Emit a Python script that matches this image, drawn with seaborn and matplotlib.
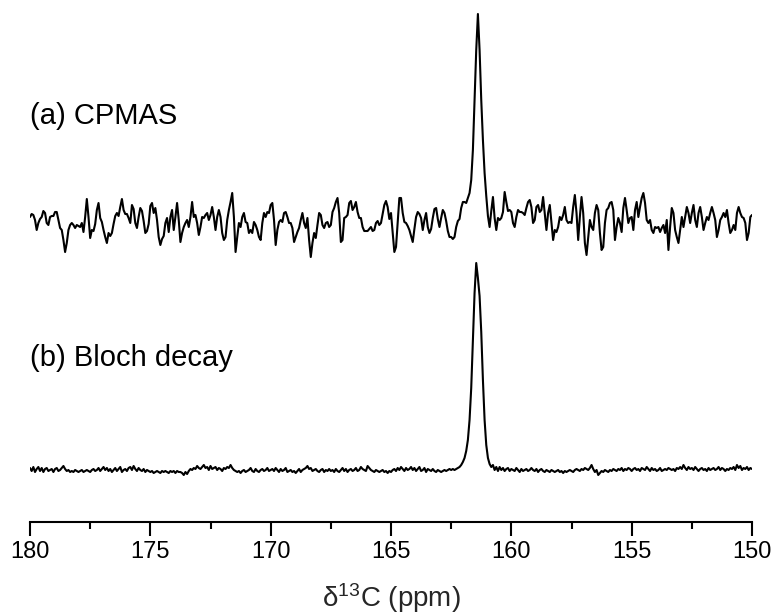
import matplotlib
matplotlib.use('Agg')
import matplotlib.pyplot as plt
from matplotlib.ticker import MultipleLocator
import numpy as np
import pandas as pd
import seaborn as sns

# chemical shift range (ppm), spectra sampled evenly from 180 down to 150
ppm_start, ppm_end = 180, 150

# (a) CPMAS intensity, arbitrary units
cpmas = [
    # 180.0 - 175.0
    -1, 2, 1, -4, -14, -7, -3, -1, 5, 3, -7, -9, -1, 0, 0, 4, 4, -4, -12, -14, -24, -36, -27, -14,
    -9, -7, -9, -12, -9, -10, -11, -7, -16, -1, 17, -1, -22, -14, -15, -8, 6, 13, -2, -6, -14, -21, -27, -17,
    -20, -17, -8, 0, 3, 0, 9, 17, 6, 2, 2, -2, -7, 11, 7, -7, -12, -1, 8, 5, -5, -17, -15, -8,
    # 175.0 - 170.0
    10, 13, 3, 8, -4, -21, -29, -23, -20, -7, -2, -16, -1, 6, -14, -1, 13, -4, -26, -17, -11, -7, -4, -11,
    -1, 14, -1, 1, -7, -19, -11, -1, -2, 1, 3, -4, 1, 9, -1, -14, -1, 6, -1, -17, -24, -21, -4, 6,
    14, 23, -1, -36, -21, -7, -11, -1, 3, -6, -7, -17, -14, -17, -6, -9, -14, -21, -24, -7, 3, -1, 4, 3,
    # 170.0 - 165.0
    11, 13, -4, -29, -14, -6, -4, -6, 3, 4, -1, -7, -7, -12, -26, -21, -16, -12, -4, 3, -7, -12, -2, -24,
    -41, -27, -17, -22, -9, 3, 1, -9, -12, -7, -6, -11, -9, 4, 8, 14, 18, 3, -26, -24, -2, -1, 1, 13,
    15, 6, 9, 14, 4, -2, -2, -11, -15, -15, -15, -13, -11, -15, -14, -7, -5, -9, -7, 2, 11, 15, 9, -3,
    # 165.0 - 160.0
    3, -17, -36, -31, -7, 18, 18, 3, -6, -7, -10, -14, -20, -26, -13, -1, 4, 2,
    -2, -14, -4, 3, -11, -17, -13, -2, 7, 8, -3, -11, -2, 6, 3, -5, -15, -21, -21, -23, -21, -11, -5, -3,
    8, 14, 14, 13, 18, 23,
    36, 66, 116, 166, 202, 166, 116, 76, 43, 20, 0, -11, 5, 19, -2, -14, -2, -4, -2, 4, 24, 14, 5, 6,
    # 160.0 - 155.0
    4, -7, -11, -1, 6, 4, 4, 3, 1, 8, 14, 16, 9, -7, -4, 9, 11, 4, 6, 19, 3, -14, 3, 11,
    -7, -24, -14, -16, -11, -1, -4, 1, 9, -4, -7, -6, -7, 9, 21, 3, -24, -1, 19, 3, -27, -39, -21, -4,
    -11, -14, 3, 11, 6, -17, -34, -31, -7, 6, 8, 13, 14, 6, -24, -11, -2, -7, -16, 8, 18, 6, -7, -2,
    # 155.0 - 150.0
    -1, -14, 6, 14, -1, 9, 18, 23, 13, -4, -7, -4, -14, -17, -11, -12, -11, -16, -12, -9, -17, -4, -34, -11,
    8, 3, -14, -21, -27, -14, -1, -11, -1, 9, 3, -7, 3, 11, -4, -11, 3, 9, -1, -14, -7, -1, -4, 3,
    9, 3, -4, -21, -14, -4, -1, 3, -1, 6, -7, -17, -14, -9, -14, 3, 9, 3, -1, -2, -7, -24, -17, -1, 1,
]

# (b) Bloch decay intensity, arbitrary units
bloch = [
    2, -1, 3, -2, 1, 3, -1, 2, -2, 1, 2, -1,
    0, 1, -2, 1, 2, -1, 0, 2, 4, 1, -1, 0,
    -2, -1, -2, 0, -1, -2, -1, 0, -2, -1, 0, -1,
    -2, 0, 1, -1, 0, 2, -1, 1, 3, 0, 2, -1,
    1, -2, 0, 2, -1, 1, 3, -2, 0, 1, -1, 2,
    3, 0, 4, 1, -1, 2, 0, -1, 1, -2, 0, -1,
    -2, -1, -3, -2, -1, -2, -3, -1, -2, -1, -2, -3,
    -1, -2, -1, -3, -1, -2, -2, -3, -5, -2, -4, -1,
    1, 0, 2, 1, 4, 2, 1, 3, 5, 2, 3, 0,
    4, 1, 2, 3, 0, 2, 1, -1, 2, 1, 3, 2,
    5, 2, 0, -1, -2, -1, -3, -1, 0, -2, -1, 0,
    2, -1, -2, 1, -1, -2, 0, 1, -1, 0, 2, -1,
    0, 1, -1, 2, 0, -2, 1, -1, 0, 2, -2, -1,
    0, -2, -1, -3, -1, 1, -2, 0, 1, 2, 4, 1,
    2, -1, 0, 1, -1, -2, 0, 1, -2, 0, -1, 1,
    -1, 0, -2, 1, -1, -2, 0, 2, -1, 1, -2, 0,
    1, -1, 0, 2, -1, 0, 3, 1, 0, -1, 4, 2,
    0, -1, -2, 0, -1, -2, -1, 0, -2, -1, -3, -1,
    -2, 0, 1, -1, 2, 0, 3, 1, -1, 2, 0, 1,
    3, 0, 2, -1, 1, 3, -1, 0, 2, -2, 1, 0,
    -1, 1, -1, -2, 0, -1, -2, -1, 0, -1, 0, 1,
    # peak
    0, 1, 0, 1, 2, 3, 5, 8, 12, 19, 30, 50, 82, 128, 177, 207, 192, 174, 138, 90, 50, 25, 12, 6, 3,
    5, 0, 3, -1, 3, 0, 2, -1, 1, 2, -1,
    1, 0, -1, 2, 0, -2, 1, -1, 0, 1, -1, 0,
    2, 0, -1, 1, -2, 0, 1, -1, -2, 0, -1, -2,
    0, -1, -2, -1, 0, -2, -1, -3, -1, -2, -1, 0,
    -1, -2, 0, 1, 0, -1, 1, 0, 2, 1, 0, 2,
    5, 1, -2, 0, -5, -3, -1, -2, 0, -1, -2, 0,
    -1, 1, 0, -1, 1, 0, 2, -1, 1, 0, 2, 1,
    -1, 1, 2, 0, 1, -1, 2, 1, 0, 3, 1, -1,
    2, 0, 1, -1, 0, 2, -1, 0, 1, 0, 2, 1,
    0, 1, -1, 2, 1, 3, 1, 5, 2, 0, 3, 1,
    2, 0, 3, 1, -1, 1, 2, 0, 1, -1, 2, 0,
    1, 2, 0, 1, 3, 0, 2, 1, -1, 1, 0, 2,
    1, 3, 0, 5, 2, 4, 0, 2, 1, 3, 0, 2, 1,
]

labels = ['(a) CPMAS', '(b) Bloch decay']
x_title = 'δ$^{13}$C (ppm)'

# vertical stacking of the two spectra
offset_a, offset_b = 306, 52
label_y = [406, 164]

ppm = np.linspace(ppm_start, ppm_end, len(cpmas))
df = pd.DataFrame({
    'ppm': ppm,
    'cpmas': np.array(cpmas) + offset_a,
    'bloch': np.array(bloch) + offset_b,
})

sns.set_theme(style='ticks')
plt.rcParams['font.family'] = ['Liberation Sans', 'DejaVu Sans']
plt.rcParams['mathtext.default'] = 'regular'

fig = plt.figure(figsize=(7.77, 6.15), dpi=100)
ax = fig.add_axes([30 / 777, 93 / 615, 722 / 777, 522 / 615])

sns.lineplot(data=df, x='ppm', y='cpmas', color='black', linewidth=1.5, ax=ax)
sns.lineplot(data=df, x='ppm', y='bloch', color='black', linewidth=1.5, ax=ax)

for text, y in zip(labels, label_y):
    ax.text(ppm_start, y, text, ha='left', va='center', fontsize=21, color='black')

ax.set_xlim(ppm_start, ppm_end)
ax.set_ylim(0, 522)
ax.set_yticks([])
ax.set_ylabel('')
ax.set_xlabel(x_title, fontsize=20, labelpad=13)
sns.despine(ax=ax, left=True)
ax.spines['bottom'].set_linewidth(1.5)
ax.spines['bottom'].set_color('black')

ax.xaxis.set_major_locator(MultipleLocator(5))
ax.xaxis.set_minor_locator(MultipleLocator(2.5))
ax.tick_params(axis='x', which='major', length=10, width=1.5, color='black',
               labelsize=17, labelcolor='black', pad=4)
ax.tick_params(axis='x', which='minor', length=5, width=1.5, color='black')

fig.savefig('out.png', dpi=100, facecolor='white')
